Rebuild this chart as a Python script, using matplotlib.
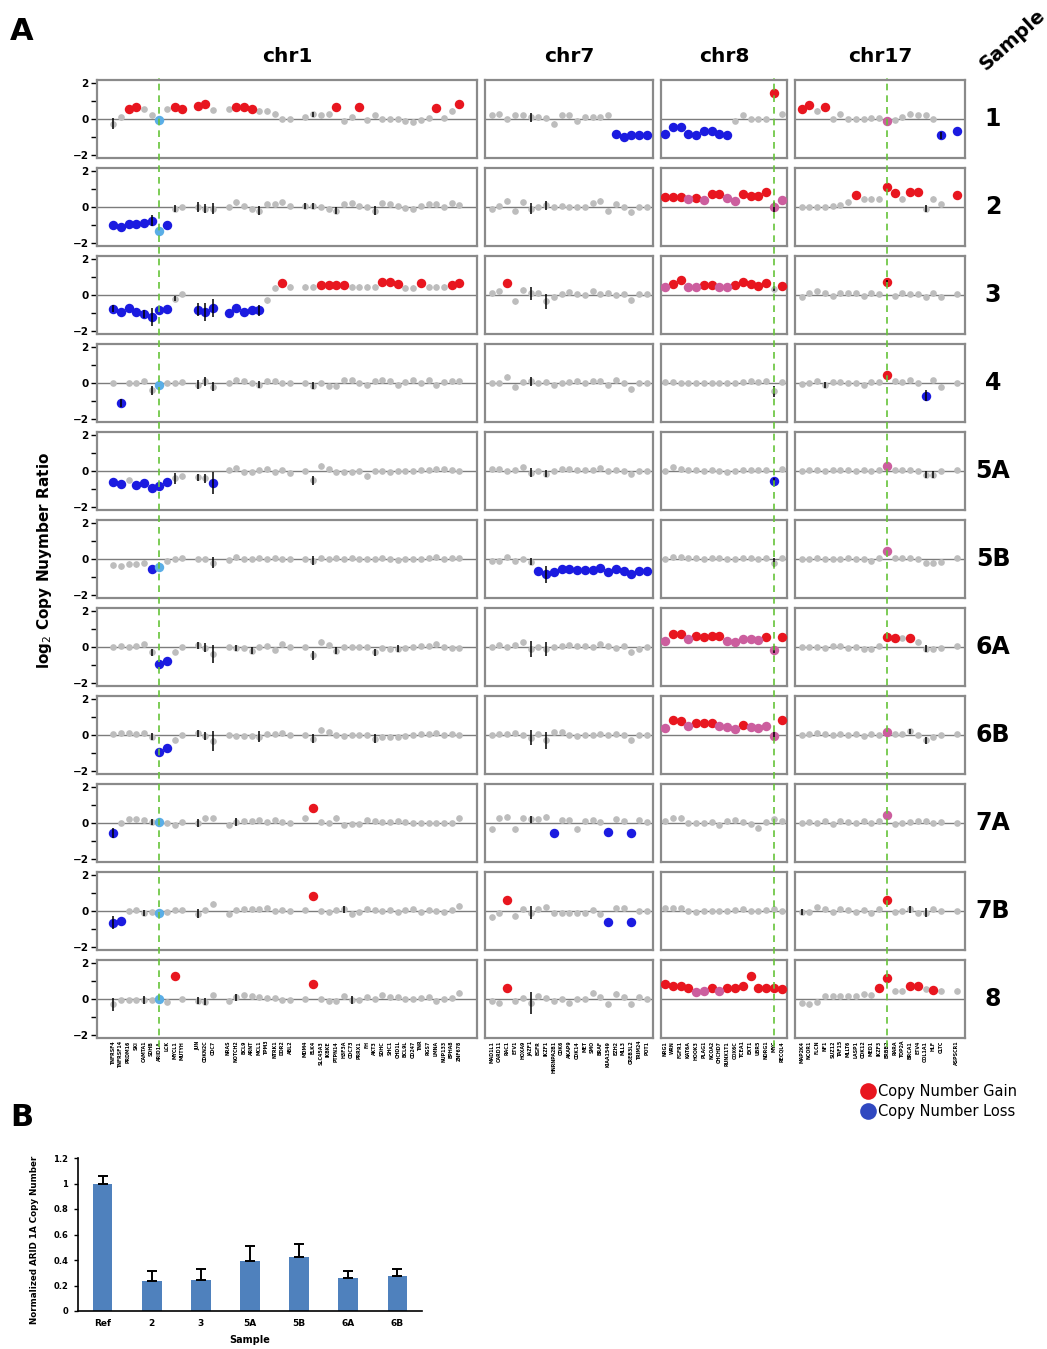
import numpy as np
import matplotlib.pyplot as plt
from matplotlib.lines import Line2D

W, H = 1047, 1349

samples = ['1', '2', '3', '4', '5A', '5B', '6A', '6B', '7A', '7B', '8']
chroms = ['chr1', 'chr7', 'chr8', 'chr17']

chr1_genes = ['TNFRSF4', 'TNFRSF14', 'PRDM16', 'SKI', 'CAMTA1', 'SDHB', 'ARID1A', 'LCK', 'MYCL1', 'MUTYH',
              'JUN', 'CDKN2C', 'CDC7',
              'NRAS', 'NOTCH2', 'BCL9', 'ARNT', 'MCL1', 'TPM3', 'NTRK1', 'DDR2', 'ABL2',
              'MDM4', 'ELK4', 'SLC45A3', 'IKBKE', 'PTPN14', 'H3F3A', 'CDC73', 'PRRX1', 'FH', 'AKT3',
              'SDHC', 'SHC1', 'CHD1L', 'BCL9L', 'CD247', 'TNR', 'RGS7', 'LMNA', 'NUP133', 'EPHA8', 'ZNF678']
chr7_genes = ['MAD1L1', 'CARD11', 'RAC1', 'ETV1', 'HOXA9', 'JAZF1', 'EGFR', 'IKZF1', 'HNRNPA2B1', 'CDK6',
              'AKAP9', 'CDK14', 'MET', 'SMO', 'BRAF', 'KIAA1549', 'EZH2', 'MLL3', 'CREB3L2', 'TRIM24', 'POT1']
chr8_genes = ['NRG1', 'WRN', 'FGFR1', 'KAT6A', 'HOOK3', 'PLAG1', 'NCOA2', 'CHCHD7', 'RUNX1T1', 'COX6C',
              'TCEA1', 'EXT1', 'UBR5', 'NDRG1', 'MYC', 'RECQL4']
chr17_genes = ['MAP2K4', 'NCOR1', 'FLCN', 'NF1', 'SUZ12', 'TAF15', 'MLLT6', 'LASP1', 'CDK12', 'MED1',
               'IKZF3', 'ERBB2', 'RARA', 'TOP2A', 'BRCA1', 'ETV4', 'COL1A1', 'HLF', 'CLTC', 'ASPSCR1']

# genes come in clusters along each chromosome
chr1_groups = [10, 3, 9, 21]
chr7_groups = [21]
chr8_groups = [16]
chr17_groups = [19, 1]

marked_gene = {'chr1': 'ARID1A', 'chr8': 'MYC', 'chr17': 'ERBB2'}

chr1_values = {
    '1': [-0.25, 0.1, 0.55, 0.67, 0.55, 0.2, -0.05, 0.55, 0.65, 0.55,
          0.7, 0.8, 0.5,
          0.55, 0.65, 0.65, 0.55, 0.45, 0.45, 0.3, 0.0, 0.0,
          0.1, 0.25, 0.2, 0.25, 0.65, -0.1, 0.1, 0.65, -0.05, 0.2, 0.0, 0.0, 0.0, -0.1, -0.15, -0.05, 0.05, 0.6, 0.05, 0.45, 0.8],
    '2': [-1.0, -1.1, -0.95, -0.95, -0.9, -0.75, -1.3, -1.0, -0.1, 0.0,
          0.0, -0.1, -0.1,
          0.0, 0.25, 0.05, -0.1, -0.2, 0.15, 0.15, 0.25, 0.05,
          0.05, 0.05, 0.0, -0.1, -0.2, 0.15, 0.2, 0.05, 0.0, -0.2, 0.2, 0.15, 0.05, -0.05, -0.1, 0.05, 0.15, 0.15, 0.0, 0.2, 0.1],
    '3': [-0.75, -0.95, -0.7, -0.95, -1.05, -1.2, -0.85, -0.75, -0.2, 0.05,
          -0.8, -0.95, -0.7,
          -1.0, -0.7, -0.95, -0.85, -0.85, -0.3, 0.4, 0.65, 0.45,
          0.45, 0.45, 0.55, 0.55, 0.55, 0.55, 0.45, 0.45, 0.45, 0.45, 0.7, 0.7, 0.6, 0.4, 0.4, 0.65, 0.45, 0.45, 0.45, 0.55, 0.65],
    '4': [0.0, -1.1, 0.0, 0.0, 0.1, -0.4, -0.1, 0.0, 0.0, 0.05,
          -0.1, 0.1, -0.2,
          0.0, 0.15, 0.1, 0.0, -0.1, 0.1, 0.1, 0.0, 0.0,
          0.0, -0.15, 0.0, -0.15, -0.15, 0.15, 0.15, 0.0, -0.1, 0.1, 0.15, 0.1, -0.1, 0.05, 0.15, 0.0, 0.15, -0.1, 0.05, 0.1, 0.1],
    '5A': [-0.6, -0.7, -0.5, -0.75, -0.65, -0.95, -0.85, -0.6, -0.4, -0.3,
           -0.35, -0.4, -0.65,
           0.05, 0.15, -0.05, -0.05, 0.05, 0.1, -0.05, 0.05, -0.1,
           0.0, -0.5, 0.3, 0.1, -0.05, -0.05, -0.05, 0.0, -0.3, 0.0, 0.0, -0.05, 0.0, 0.0, 0.0, 0.05, 0.05, 0.1, 0.1, 0.05, 0.0],
    '5B': [-0.35, -0.4, -0.25, -0.3, -0.2, -0.55, -0.45, -0.1, 0.0, 0.05,
           0.0, 0.0, -0.2,
           -0.05, 0.1, 0.0, 0.0, 0.05, 0.0, 0.05, 0.0, 0.0,
           0.0, -0.1, 0.05, 0.0, 0.05, 0.0, 0.05, 0.0, 0.0, 0.0, 0.05, 0.0, -0.05, 0.0, 0.0, 0.0, 0.05, 0.1, 0.0, 0.05, 0.05],
    '6A': [0.0, 0.05, 0.0, 0.05, 0.15, -0.3, -0.95, -0.75, -0.25, 0.0,
           0.1, -0.05, -0.4,
           0.0, -0.05, -0.05, -0.2, 0.0, 0.05, -0.15, 0.15, 0.0,
           0.0, -0.45, 0.3, 0.1, -0.2, 0.0, 0.0, 0.0, 0.0, -0.3, -0.05, -0.1, -0.1, -0.05, 0.0, 0.05, 0.05, 0.15, 0.0, -0.05, -0.05],
    '6B': [0.05, 0.1, 0.1, 0.05, 0.1, -0.1, -0.95, -0.7, -0.25, 0.0,
           0.1, -0.05, -0.35,
           0.0, -0.05, -0.05, -0.05, -0.1, 0.05, 0.05, 0.1, 0.0,
           0.0, -0.2, 0.3, 0.15, 0.0, -0.05, 0.0, 0.0, 0.0, -0.2, -0.1, -0.1, -0.1, -0.05, 0.0, 0.05, 0.05, 0.1, 0.0, 0.05, 0.0],
    '7A': [-0.55, 0.0, 0.2, 0.2, 0.15, 0.05, 0.05, 0.0, -0.1, 0.05,
           0.0, 0.25, 0.25,
           -0.1, 0.05, 0.1, 0.1, 0.15, 0.05, 0.15, 0.05, 0.0,
           0.25, 0.8, 0.05, 0.0, 0.3, -0.1, -0.05, -0.05, 0.15, 0.1, 0.05, 0.05, 0.1, 0.05, 0.0, 0.0, 0.0, 0.0, 0.0, 0.0, 0.25],
    '7B': [-0.65, -0.55, 0.0, 0.05, -0.1, -0.05, -0.1, -0.05, 0.05, 0.05,
           -0.15, 0.05, 0.4,
           -0.15, 0.05, 0.1, 0.1, 0.1, 0.15, 0.0, 0.05, 0.0,
           0.05, 0.8, 0.0, -0.05, 0.05, 0.1, -0.15, -0.05, 0.1, 0.05, 0.0, 0.05, -0.05, 0.05, 0.1, -0.05, 0.05, 0.0, -0.05, 0.05, 0.3],
    '8': [-0.3, -0.05, -0.05, -0.05, -0.05, -0.05, 0.0, -0.15, 1.25, 0.0,
          -0.1, -0.15, 0.2,
          -0.1, 0.1, 0.2, 0.15, 0.1, 0.05, 0.05, -0.05, -0.05,
          0.0, 0.85, 0.0, -0.1, -0.1, 0.15, -0.05, -0.05, 0.1, 0.0, 0.2, 0.1, 0.1, 0.0, 0.0, 0.05, 0.1, -0.1, 0.0, 0.05, 0.35],
}
# g = no call, r = gain, p = weak gain, b = loss, c = reference gene
chr1_status = {
    '1': 'ggrrggcgrr' + 'rrg' + 'grrrggggg' + 'ggggrggrgggggggggrggr',
    '2': 'bbbbbbcbgg' + 'ggg' + 'g' * 9 + 'g' * 21,
    '3': 'bbbbbbbbgg' + 'bbb' + 'bbbbbggrg' + 'ggrrrrggggrrrggrgggrr',
    '4': 'gbggggcggg' + 'ggg' + 'g' * 9 + 'g' * 21,
    '5A': 'bbgbbbbbgg' + 'ggb' + 'g' * 9 + 'g' * 21,
    '5B': 'gggggbcggg' + 'ggg' + 'g' * 9 + 'g' * 21,
    '6A': 'ggggggbbgg' + 'ggg' + 'g' * 9 + 'g' * 21,
    '6B': 'ggggggbbgg' + 'ggg' + 'g' * 9 + 'g' * 21,
    '7A': 'bgggggcggg' + 'ggg' + 'g' * 9 + 'gr' + 'g' * 19,
    '7B': 'bbggggcggg' + 'ggg' + 'g' * 9 + 'gr' + 'g' * 19,
    '8': 'ggggggcgrg' + 'ggg' + 'g' * 9 + 'gr' + 'g' * 19,
}
chr1_errors = {
    '1': {0: 0.3, 23: 0.15},
    '2': {5: 0.3, 8: 0.2, 10: 0.25, 11: 0.25, 12: 0.3, 17: 0.25, 22: 0.15, 23: 0.15, 26: 0.2, 31: 0.25},
    '3': {0: 0.2, 4: 0.2, 5: 0.5, 8: 0.15, 10: 0.35, 11: 0.5, 12: 0.5, 17: 0.3},
    '4': {1: 0.2, 5: 0.25, 10: 0.25, 11: 0.25, 12: 0.25, 17: 0.2, 23: 0.2},
    '5A': {8: 0.3, 10: 0.2, 11: 0.25, 12: 0.6, 23: 0.25},
    '5B': {12: 0.3, 23: 0.25},
    '6A': {5: 0.2, 10: 0.2, 11: 0.25, 12: 0.5, 14: 0.15, 16: 0.2, 23: 0.25, 26: 0.2, 31: 0.2, 34: 0.2},
    '6B': {5: 0.2, 10: 0.2, 11: 0.2, 12: 0.55, 17: 0.3, 23: 0.25, 31: 0.25},
    '7A': {0: 0.3, 5: 0.15, 10: 0.2, 14: 0.2},
    '7B': {0: 0.35, 4: 0.15, 10: 0.25, 27: 0.2},
    '8': {0: 0.35, 4: 0.2, 10: 0.2, 11: 0.2, 14: 0.2, 28: 0.2},
}

chr7_values = {
    '1': [0.2, 0.25, 0.0, 0.2, 0.2, 0.1, 0.1, 0.05, -0.25, 0.2, 0.2, -0.1, 0.1, 0.1, 0.1, 0.2, -0.8, -1.0, -0.9, -0.9, -0.9],
    '2': [-0.1, 0.05, 0.35, -0.2, 0.25, -0.1, 0.0, 0.1, 0.0, 0.05, 0.0, 0.0, 0.0, 0.2, 0.35, -0.2, 0.15, 0.0, -0.3, 0.0, 0.0],
    '3': [0.1, 0.2, 0.65, -0.35, 0.3, 0.1, 0.1, -0.35, -0.1, 0.05, 0.15, 0.05, 0.0, 0.2, 0.05, 0.1, 0.0, 0.05, -0.3, 0.05, 0.05],
    '4': [0.0, 0.0, 0.35, -0.2, 0.05, 0.1, 0.0, 0.05, -0.1, 0.0, 0.05, 0.1, 0.0, 0.1, 0.1, -0.1, 0.15, 0.0, -0.35, 0.0, 0.0],
    '5A': [0.1, 0.1, 0.0, 0.05, 0.2, -0.1, 0.0, -0.15, 0.0, 0.1, 0.1, 0.05, 0.05, 0.05, 0.15, 0.0, 0.05, 0.0, -0.15, 0.0, 0.0],
    '5B': [-0.1, -0.1, 0.1, -0.1, 0.0, -0.15, -0.65, -0.85, -0.7, -0.55, -0.55, -0.6, -0.6, -0.6, -0.5, -0.7, -0.55, -0.65, -0.8, -0.65, -0.65],
    '6A': [0.0, 0.1, 0.0, 0.1, 0.25, -0.1, 0.0, -0.1, 0.0, 0.05, 0.1, 0.05, 0.05, 0.0, 0.15, 0.05, -0.05, 0.05, -0.3, -0.1, 0.0],
    '6B': [0.0, 0.05, 0.05, 0.1, 0.0, -0.15, 0.05, -0.3, 0.15, 0.15, 0.0, -0.05, 0.0, 0.0, 0.05, 0.0, 0.05, 0.0, -0.3, 0.0, 0.0],
    '7A': [-0.35, 0.25, 0.35, -0.35, 0.25, 0.2, 0.2, 0.35, -0.55, 0.15, 0.15, -0.35, 0.1, 0.15, 0.05, -0.5, 0.2, 0.1, -0.55, 0.15, 0.05],
    '7B': [-0.35, -0.1, 0.6, -0.25, 0.1, -0.1, 0.1, 0.2, -0.1, -0.1, -0.1, -0.1, -0.1, 0.05, -0.15, -0.6, 0.15, 0.15, -0.6, 0.0, 0.0],
    '8': [-0.1, -0.2, 0.6, -0.1, 0.05, -0.2, 0.15, 0.05, -0.1, 0.0, -0.2, 0.0, 0.0, 0.35, 0.1, -0.3, 0.3, 0.1, -0.3, 0.1, 0.0],
}
chr7_status = {
    '1': 'g' * 16 + 'b' * 5,
    '2': 'g' * 21,
    '3': 'ggr' + 'g' * 18,
    '4': 'g' * 21,
    '5A': 'g' * 21,
    '5B': 'g' * 6 + 'b' * 15,
    '6A': 'g' * 21,
    '6B': 'g' * 21,
    '7A': 'g' * 8 + 'b' + 'g' * 6 + 'b' + 'gg' + 'b' + 'gg',
    '7B': 'ggr' + 'g' * 12 + 'b' + 'gg' + 'b' + 'gg',
    '8': 'ggr' + 'g' * 18,
}
chr7_errors = {
    '1': {5: 0.25}, '2': {5: 0.3, 7: 0.25}, '3': {5: 0.35, 7: 0.4}, '4': {5: 0.25},
    '5A': {5: 0.25, 7: 0.2}, '5B': {5: 0.2, 7: 0.45}, '6A': {5: 0.45, 7: 0.4},
    '6B': {5: 0.4, 7: 0.45}, '7A': {5: 0.2}, '7B': {5: 0.35}, '8': {5: 0.6},
}

chr8_values = {
    '1': [-0.8, -0.45, -0.45, -0.85, -0.9, -0.65, -0.65, -0.8, -0.9, -0.1, 0.2, 0.0, 0.0, 0.0, 1.45, 0.25],
    '2': [0.55, 0.55, 0.55, 0.45, 0.5, 0.4, 0.7, 0.7, 0.5, 0.35, 0.7, 0.6, 0.6, 0.8, 0.0, 0.4],
    '3': [0.45, 0.6, 0.8, 0.45, 0.45, 0.55, 0.55, 0.45, 0.45, 0.55, 0.7, 0.6, 0.5, 0.65, 0.35, 0.5],
    '4': [0.05, 0.05, 0.0, 0.0, 0.0, 0.0, 0.0, 0.0, 0.0, 0.0, 0.05, 0.1, 0.05, 0.1, -0.45, 0.05],
    '5A': [0.0, 0.2, 0.1, 0.05, 0.05, 0.0, 0.05, 0.0, -0.05, 0.0, 0.05, 0.05, 0.05, 0.05, -0.55, 0.1],
    '5B': [0.0, 0.1, 0.1, 0.05, 0.05, 0.0, 0.05, 0.05, 0.0, 0.0, 0.05, 0.05, 0.0, 0.05, -0.2, 0.05],
    '6A': [0.35, 0.7, 0.7, 0.45, 0.6, 0.55, 0.6, 0.6, 0.35, 0.3, 0.45, 0.45, 0.4, 0.55, -0.15, 0.55],
    '6B': [0.4, 0.85, 0.75, 0.5, 0.65, 0.65, 0.65, 0.5, 0.45, 0.35, 0.55, 0.45, 0.4, 0.5, -0.05, 0.8],
    '7A': [0.1, 0.3, 0.3, 0.0, 0.0, 0.0, 0.05, -0.1, 0.1, 0.15, 0.05, -0.05, -0.25, 0.05, 0.2, 0.1],
    '7B': [0.15, 0.15, 0.15, 0.0, -0.05, 0.0, 0.0, 0.0, 0.0, 0.05, 0.1, 0.0, 0.0, 0.05, 0.1, 0.0],
    '8': [0.8, 0.7, 0.7, 0.6, 0.4, 0.45, 0.6, 0.45, 0.6, 0.6, 0.7, 1.25, 0.6, 0.6, 0.6, 0.55],
}
chr8_status = {
    '1': 'b' * 9 + 'g' * 5 + 'rg',
    '2': 'rrrprprrpprrrrpp',
    '3': 'prrpprrpprrrrrgr',
    '4': 'g' * 16,
    '5A': 'g' * 14 + 'bg',
    '5B': 'g' * 16,
    '6A': 'prrprrrrpppppr' + 'pr',
    '6B': 'prrprrrppprppp' + 'pr',
    '7A': 'g' * 16,
    '7B': 'g' * 16,
    '8': 'rrrrpprprrrrrrrr',
}
chr8_errors = {
    '1': {}, '2': {14: 0.3}, '3': {14: 0.15}, '4': {14: 0.3}, '5A': {14: 0.15}, '5B': {14: 0.25},
    '6A': {14: 0.2}, '6B': {14: 0.2}, '7A': {}, '7B': {}, '8': {},
}

chr17_values = {
    '1': [0.55, 0.75, 0.45, 0.67, 0.0, 0.25, 0.0, 0.0, 0.0, 0.05, 0.05, -0.1, -0.05, 0.1, 0.3, 0.2, 0.2, 0.0, -0.9, -0.65],
    '2': [0.0, 0.0, 0.0, 0.0, 0.05, 0.1, 0.25, 0.65, 0.45, 0.45, 0.45, 1.1, 0.75, 0.45, 0.8, 0.8, -0.1, 0.45, 0.15, 0.65],
    '3': [-0.1, 0.1, 0.2, 0.1, -0.05, 0.1, 0.1, 0.1, -0.05, 0.1, 0.05, 0.7, -0.05, 0.1, 0.05, 0.05, -0.1, 0.1, -0.1, 0.05],
    '4': [-0.05, 0.0, 0.1, -0.1, 0.05, 0.05, 0.0, 0.0, -0.1, 0.05, 0.05, 0.45, 0.1, 0.05, 0.15, 0.0, -0.7, 0.15, -0.2, 0.0],
    '5A': [0.0, 0.05, 0.05, 0.0, 0.05, 0.05, 0.05, 0.0, 0.05, 0.0, 0.05, 0.3, 0.05, 0.05, 0.05, 0.0, -0.2, -0.2, 0.0, 0.05],
    '5B': [0.0, 0.0, 0.05, 0.0, 0.0, 0.0, 0.05, 0.0, 0.0, -0.1, 0.05, 0.45, 0.05, 0.05, 0.05, 0.0, -0.2, -0.2, -0.15, 0.05],
    '6A': [0.0, 0.0, 0.0, -0.05, 0.05, 0.05, -0.05, 0.0, -0.1, -0.1, 0.05, 0.55, 0.5, 0.5, 0.5, 0.3, -0.1, -0.1, -0.05, 0.05],
    '6B': [0.0, 0.05, 0.1, 0.05, 0.0, 0.05, 0.0, 0.05, -0.05, 0.05, 0.0, 0.15, 0.05, 0.05, 0.2, 0.0, -0.3, -0.1, 0.0, 0.05],
    '7A': [0.0, 0.05, 0.0, 0.1, -0.05, 0.1, 0.05, 0.0, 0.1, 0.0, 0.1, 0.45, -0.05, 0.0, 0.05, 0.1, 0.1, 0.0, 0.05, 0.0],
    '7B': [-0.05, -0.05, 0.2, 0.1, -0.05, 0.1, 0.05, -0.05, 0.05, -0.1, 0.1, 0.6, -0.05, 0.0, 0.1, -0.1, -0.1, 0.1, 0.0, 0.0],
    '8': [-0.2, -0.3, -0.15, 0.15, 0.15, 0.15, 0.15, 0.15, 0.25, 0.2, 0.6, 1.15, 0.45, 0.45, 0.7, 0.7, 0.55, 0.5, 0.45, 0.45],
}
chr17_status = {
    '1': 'rrgr' + 'g' * 7 + 'p' + 'g' * 6 + 'bb',
    '2': 'g' * 7 + 'r' + 'ggg' + 'rr' + 'g' + 'rr' + 'ggg' + 'r',
    '3': 'g' * 11 + 'r' + 'g' * 8,
    '4': 'g' * 11 + 'r' + 'g' * 4 + 'b' + 'g' * 3,
    '5A': 'g' * 11 + 'p' + 'g' * 8,
    '5B': 'g' * 11 + 'p' + 'g' * 8,
    '6A': 'g' * 11 + 'rrgr' + 'g' * 5,
    '6B': 'g' * 11 + 'p' + 'g' * 8,
    '7A': 'g' * 11 + 'p' + 'g' * 8,
    '7B': 'g' * 11 + 'r' + 'g' * 8,
    '8': 'g' * 10 + 'rrggrrgrgg',
}
chr17_errors = {
    '1': {18: 0.2}, '2': {16: 0.2}, '3': {11: 0.15}, '4': {3: 0.15, 16: 0.3},
    '5A': {16: 0.2, 17: 0.2}, '5B': {}, '6A': {16: 0.2}, '6B': {14: 0.15, 16: 0.2},
    '7A': {}, '7B': {0: 0.15, 14: 0.2, 16: 0.25}, '8': {},
}

# panel B: qPCR of ARID1A
qpcr_samples = ['Ref', '2', '3', '5A', '5B', '6A', '6B']
qpcr_means = [1.0, 0.235, 0.24, 0.39, 0.42, 0.26, 0.275]
qpcr_err = [0.055, 0.08, 0.09, 0.12, 0.105, 0.055, 0.055]


def slot_positions(groups):
    pos, start = [], 0
    for n in groups:
        pos.extend(range(start, start + n))
        start += n + 1
    return np.array(pos)


genes = {'chr1': chr1_genes, 'chr7': chr7_genes, 'chr8': chr8_genes, 'chr17': chr17_genes}
groups = {'chr1': chr1_groups, 'chr7': chr7_groups, 'chr8': chr8_groups, 'chr17': chr17_groups}
values = {'chr1': chr1_values, 'chr7': chr7_values, 'chr8': chr8_values, 'chr17': chr17_values}
status = {'chr1': chr1_status, 'chr7': chr7_status, 'chr8': chr8_status, 'chr17': chr17_status}
errors = {'chr1': chr1_errors, 'chr7': chr7_errors, 'chr8': chr8_errors, 'chr17': chr17_errors}

colors = {'g': '#bdbdbd', 'r': '#e8161f', 'b': '#1b1be0', 'p': '#cc5e9e', 'c': '#5aaee6'}

# layout in pixels
col_x = {'chr1': (97, 477), 'chr7': (485, 653), 'chr8': (661, 787), 'chr17': (795, 965)}
col_xlim = {'chr1': (-2.1, 47.3), 'chr7': (-0.87, 20.8), 'chr8': (-0.51, 15.68), 'chr17': (-0.86, 21.07)}
row_top0, row_h, row_step = 80, 78, 88


def rect(x0, x1, top, bottom):
    return [x0 / W, 1 - bottom / H, (x1 - x0) / W, (bottom - top) / H]


fig = plt.figure(figsize=(W / 100, H / 100), dpi=100)

for i, s in enumerate(samples):
    top = row_top0 + i * row_step
    for c in chroms:
        x0, x1 = col_x[c]
        ax = fig.add_axes(rect(x0, x1, top, top + row_h))
        x = slot_positions(groups[c])
        v = np.array(values[c][s], dtype=float)
        st = np.array(list(status[c][s]))
        if len(v) != len(x) or len(st) != len(x):
            raise ValueError(f'{c} {s}: {len(x)} genes, {len(v)} values, {len(st)} calls')

        ax.axhline(0, color='#7c7c7c', lw=1.0, zorder=1)
        g = st == 'g'
        ax.errorbar(x[g], v[g], yerr=0.13, fmt='o', ms=4.8, color=colors['g'], mec='none',
                    ecolor='#a8a8a8', elinewidth=0.9, capsize=0, zorder=2)
        for code in 'rpbc':
            m = st == code
            if m.any():
                ax.plot(x[m], v[m], 'o', ms=6.8, color=colors[code], mec='none', zorder=3)
        for idx, e in errors[c][s].items():
            ax.vlines(x[idx], v[idx] - e, v[idx] + e, color='black', lw=1.1, zorder=4)

        ax.set_xlim(*col_xlim[c])
        ax.set_ylim(-2.15, 2.15)
        for sp in ax.spines.values():
            sp.set_color('#8a8a8a')
            sp.set_linewidth(1.6)
        if c == 'chr1':
            ax.set_yticks([-2, -1, 0, 1, 2])
            ax.set_yticklabels(['\u22122', '', '0', '', '2'], fontsize=7.5, fontweight='bold')
            ax.tick_params(axis='y', length=4, width=1, pad=2, color='black')
        else:
            ax.set_yticks([])
        if i == len(samples) - 1:
            ax.set_xticks(x)
            ax.set_xticklabels(genes[c], rotation=90, fontsize=3.4, fontweight='bold')
            ax.tick_params(axis='x', length=0, pad=2)
        else:
            ax.set_xticks([])

    fig.text(993 / W, 1 - (top + row_h / 2) / H, s, ha='center', va='center',
             fontsize=17, fontweight='bold')

# dashed guide lines through the marked genes
line_top, line_bottom = 78, 1047
for c, gene in marked_gene.items():
    x0, x1 = col_x[c]
    ov = fig.add_axes(rect(x0, x1, line_top, line_bottom), zorder=10)
    ov.patch.set_alpha(0)
    ov.axis('off')
    ov.set_xlim(*col_xlim[c])
    gx = slot_positions(groups[c])[genes[c].index(gene)]
    ov.axvline(gx, color='#66c43a', lw=1.2, ls=(0, (4, 3)))

for c in chroms:
    x0, x1 = col_x[c]
    fig.text((x0 + x1) / 2 / W, 1 - 57 / H, c, ha='center', va='center', fontsize=14.5, fontweight='bold')

fig.text(1012 / W, 1 - 40 / H, 'Sample', ha='center', va='center', rotation=42,
         fontsize=14, fontweight='bold')
fig.text(22 / W, 1 - 32 / H, 'A', ha='center', va='center', fontsize=22, fontweight='bold')
fig.text(22 / W, 1 - 1118 / H, 'B', ha='center', va='center', fontsize=22, fontweight='bold')
fig.text(45 / W, 1 - 560 / H, 'log$_2$ Copy Nuymber Ratio', ha='center', va='center',
         rotation=90, fontsize=11, fontweight='bold')

handles = [Line2D([], [], ls='none', marker='o', ms=12, color='#e8161f', mec='none'),
           Line2D([], [], ls='none', marker='o', ms=12, color='#3048c0', mec='none')]
fig.legend(handles, ['Copy Number Gain', 'Copy Number Loss'], loc='upper left',
           bbox_to_anchor=(853 / W, 1 - 1078 / H), frameon=False, fontsize=10.5,
           handletextpad=0.1, labelspacing=0.35, borderaxespad=0, handlelength=1.2)

# panel B
axb = fig.add_axes(rect(78, 422, 1158, 1311))
xb = np.arange(len(qpcr_samples))
axb.bar(xb, qpcr_means, width=0.4, color='#4f81bd',
        yerr=[np.zeros(len(qpcr_err)), qpcr_err], capsize=3.5,
        error_kw={'elinewidth': 1.4, 'capthick': 1.4, 'ecolor': 'black'})
axb.set_xlim(-0.5, len(qpcr_samples) - 0.5)
axb.set_ylim(0, 1.2)
axb.set_yticks(np.arange(0, 1.21, 0.2))
axb.set_yticklabels(['0', '0.2', '0.4', '0.6', '0.8', '1', '1.2'], fontsize=6, fontweight='bold')
axb.set_xticks(xb)
axb.set_xticklabels(qpcr_samples, fontsize=6.5, fontweight='bold')
axb.tick_params(axis='x', length=0, pad=6)
axb.tick_params(axis='y', length=3, width=1, pad=4)
axb.spines['top'].set_visible(False)
axb.spines['right'].set_visible(False)
axb.spines['left'].set_linewidth(1.2)
axb.spines['bottom'].set_linewidth(1.2)
axb.set_xlabel('Sample', fontsize=7, fontweight='bold', labelpad=5)
fig.text(35 / W, 1 - 1240 / H, 'Normalized ARID 1A Copy Number', ha='center', va='center',
         rotation=90, fontsize=6.3, fontweight='bold')

fig.savefig('out.png', dpi=100)
